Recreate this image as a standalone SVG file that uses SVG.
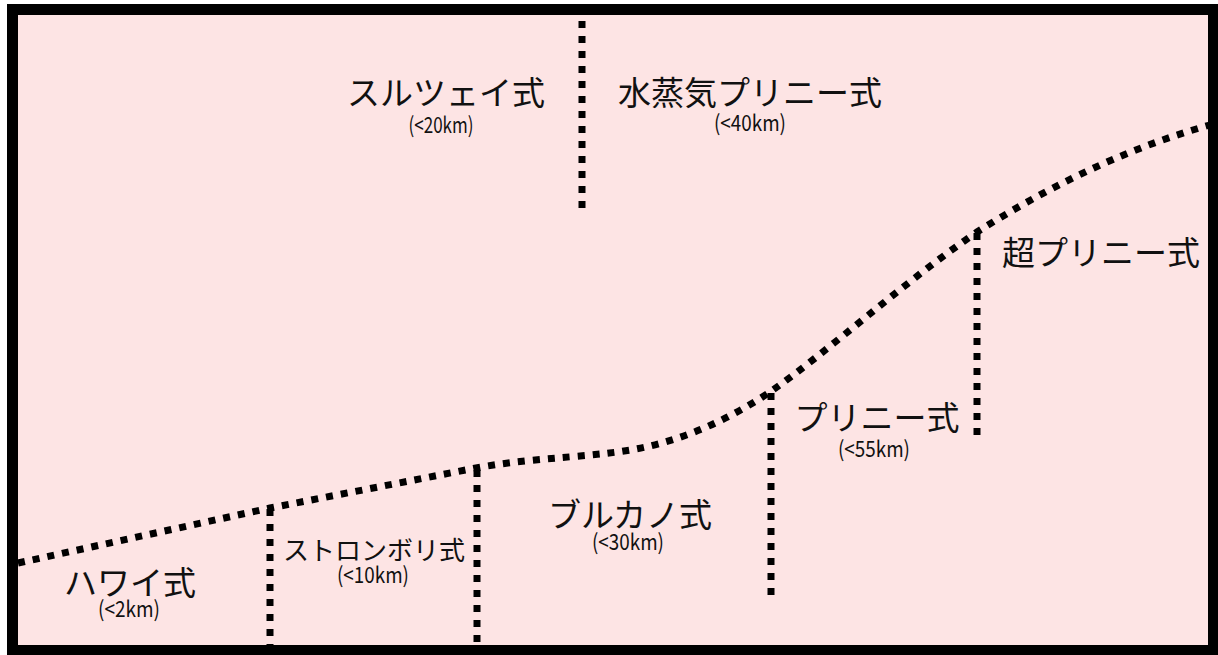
<svg xmlns="http://www.w3.org/2000/svg" width="1218" height="655" viewBox="0 0 1218 655">
<style>
.bg{fill:#fde4e4;stroke:none}
.frame{fill:none;stroke:#000;stroke-width:11}
.dot{fill:none;stroke:#000;stroke-width:7;stroke-dasharray:7 8}
.lbl{font-family:"Noto Sans CJK JP","Noto Sans",sans-serif;font-size:33px;fill:#111;text-anchor:middle}
.sub{font-family:"Noto Sans CJK JP","Noto Sans",sans-serif;font-size:22px;fill:#111;text-anchor:middle}
</style>
<rect class="bg" x="12" y="9" width="1202" height="642"/>
<g id="connectors">
<path class="dot" d="M18,563 L270,508 L476,468 C540,456 600,458 650,446 C700,434 740,412 770,392 C830,350 900,285 977,232 C1040,192 1120,150 1210,125"/>
<line class="dot" x1="582" y1="21" x2="582" y2="216"/>
<line class="dot" x1="270" y1="509" x2="270" y2="646"/>
<line class="dot" x1="477" y1="470" x2="477" y2="646"/>
<line class="dot" x1="771" y1="393" x2="771" y2="597"/>
<line class="dot" x1="977" y1="233" x2="977" y2="436"/>
</g>
<rect class="frame" x="12.5" y="9.5" width="1201" height="641"/>
<g id="surtsey">
<text class="lbl" x="446" y="105">スルツェイ式</text>
<text class="sub" x="441" y="133" textLength="65" lengthAdjust="spacingAndGlyphs">(&lt;20km)</text>
</g>
<g id="phreatoplinian">
<text class="lbl" x="750" y="105">水蒸気プリニー式</text>
<text class="sub" x="750" y="131" textLength="72" lengthAdjust="spacingAndGlyphs">(&lt;40km)</text>
</g>
<g id="ultraplinian">
<text class="lbl" x="1101" y="265">超プリニー式</text>
</g>
<g id="plinian">
<text class="lbl" x="877" y="430">プリニー式</text>
<text class="sub" x="874" y="457" textLength="72" lengthAdjust="spacingAndGlyphs">(&lt;55km)</text>
</g>
<g id="vulcanian">
<text class="lbl" x="630" y="527">ブルカノ式</text>
<text class="sub" x="628" y="550" textLength="72" lengthAdjust="spacingAndGlyphs">(&lt;30km)</text>
</g>
<g id="strombolian">
<text class="lbl" x="374" y="560" style="font-size:26px">ストロンボリ式</text>
<text class="sub" x="373" y="583" textLength="72" lengthAdjust="spacingAndGlyphs">(&lt;10km)</text>
</g>
<g id="hawaiian">
<text class="lbl" x="130" y="595">ハワイ式</text>
<text class="sub" x="129" y="617" textLength="62" lengthAdjust="spacingAndGlyphs">(&lt;2km)</text>
</g>
</svg>
